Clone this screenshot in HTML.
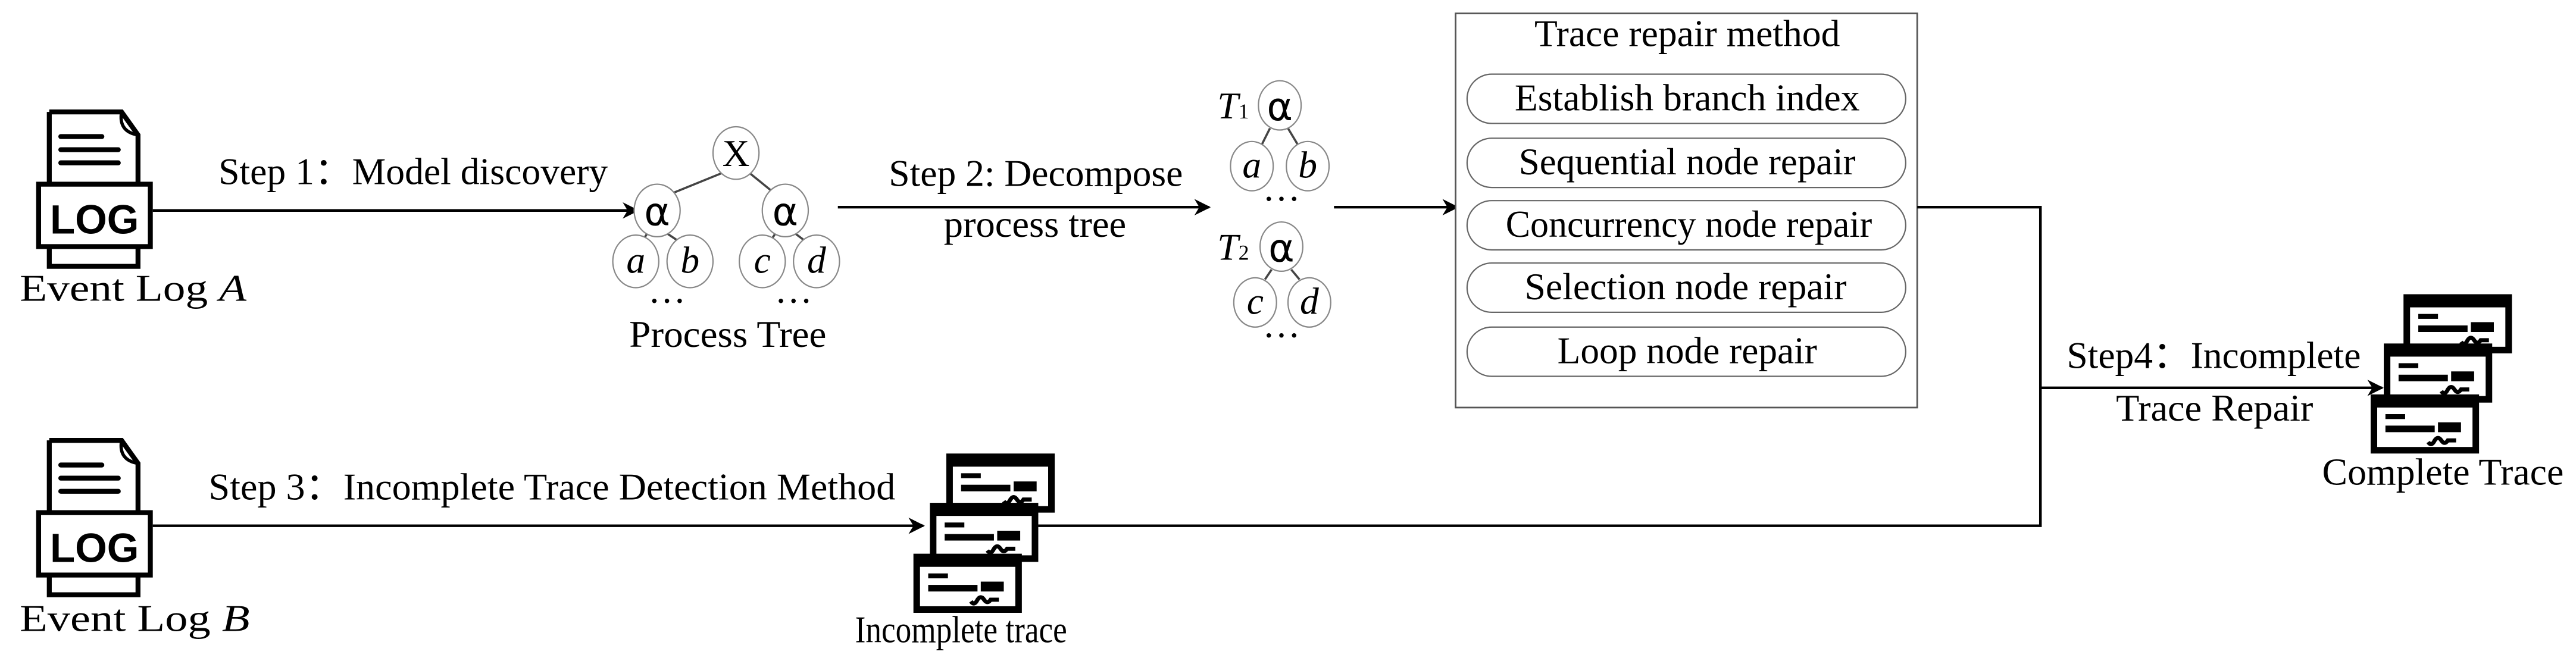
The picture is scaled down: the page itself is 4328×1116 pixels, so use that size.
<!DOCTYPE html>
<html><head><meta charset="utf-8"><style>html,body{margin:0;padding:0;background:#fff}svg{display:block}</style></head>
<body>
<svg xmlns="http://www.w3.org/2000/svg" width="4328" height="1116" viewBox="0 0 1568 404">
<defs>
<marker id="ar" markerWidth="10" markerHeight="10" refX="9" refY="5" orient="auto" markerUnits="userSpaceOnUse"><path d="M0,0 L10,5 L0,10 L3,5 z" fill="#000"/></marker>
<g id="log">
<path d="M8,2 H52 L62,16 V46 M62,84 V96 H8 V84 M8,46 V2" fill="none" stroke="#000" stroke-width="3"/>
<path d="M52,2 Q50,14 62,16" fill="none" stroke="#000" stroke-width="2"/>
<line x1="15" y1="17" x2="40" y2="17" stroke="#000" stroke-width="3" stroke-linecap="round"/>
<line x1="15" y1="25" x2="50" y2="25" stroke="#000" stroke-width="3" stroke-linecap="round"/>
<line x1="15" y1="33" x2="50" y2="33" stroke="#000" stroke-width="3" stroke-linecap="round"/>
<rect x="1.5" y="46" width="68" height="38" fill="#fff" stroke="#000" stroke-width="3"/>
<text x="35.5" y="76" text-anchor="middle" font-family="Liberation Sans, sans-serif" font-weight="bold" font-size="25">LOG</text>
</g>
<g id="card">
<rect x="2" y="2" width="62" height="32" fill="#fff" stroke="#000" stroke-width="4"/>
<rect x="2" y="2" width="62" height="6" fill="#000"/>
<rect x="9" y="12" width="12" height="3" fill="#000"/>
<rect x="9" y="19" width="30" height="4" fill="#000"/>
<rect x="41" y="17" width="14" height="6" fill="#000"/>
<path d="M35,29 q2,3 4,-1 q2,-3 4,0 q2,3 4,0 h5" fill="none" stroke="#000" stroke-width="2.5"/>
</g>
</defs>
<g font-family="Liberation Serif, serif" font-size="23" fill="#000">
<use href="#log" x="22" y="66"/>
<text x="81" y="183" text-anchor="middle" textLength="138" lengthAdjust="spacingAndGlyphs">Event Log <tspan font-style="italic">A</tspan></text>
<use href="#log" x="22" y="266"/>
<text x="82" y="384" text-anchor="middle" textLength="140" lengthAdjust="spacingAndGlyphs">Event Log <tspan font-style="italic">B</tspan></text>

<line x1="93" y1="128" x2="388" y2="128" stroke="#000" stroke-width="1.6" marker-end="url(#ar)"/>
<text x="133" y="112" textLength="237" lengthAdjust="spacingAndGlyphs">Step 1：Model discovery</text>

<g stroke="#444" stroke-width="1.3">
<line x1="440" y1="105" x2="408" y2="118"/><line x1="456" y1="105" x2="472" y2="118"/>
<line x1="394" y1="142" x2="390" y2="148"/><line x1="406" y1="142" x2="415" y2="148"/>
<line x1="472" y1="142" x2="468" y2="148"/><line x1="484" y1="142" x2="492" y2="148"/>
<line x1="773" y1="78" x2="768" y2="88"/><line x1="784" y1="78" x2="790" y2="88"/>
<line x1="774" y1="164" x2="770" y2="170"/><line x1="786" y1="164" x2="791" y2="170"/>
</g>
<g fill="#fff" stroke="#888" stroke-width="0.8">
<ellipse cx="448" cy="93" rx="14" ry="16"/>
<ellipse cx="400" cy="128" rx="14" ry="16"/><ellipse cx="478" cy="128" rx="14" ry="16"/>
<ellipse cx="387" cy="159" rx="14" ry="16"/><ellipse cx="420" cy="159" rx="14" ry="16"/>
<ellipse cx="464" cy="159" rx="14" ry="16"/><ellipse cx="497" cy="159" rx="14" ry="16"/>
<ellipse cx="779" cy="64" rx="13" ry="15"/><ellipse cx="762" cy="101" rx="13" ry="15"/><ellipse cx="796" cy="101" rx="13" ry="15"/>
<ellipse cx="780" cy="150" rx="13" ry="15"/><ellipse cx="764" cy="184" rx="13" ry="15"/><ellipse cx="797" cy="184" rx="13" ry="15"/>
</g>
<text x="448" y="101" text-anchor="middle">X</text>
<g font-family="DejaVu Sans, sans-serif" font-size="24" text-anchor="middle"><text x="400" y="137">α</text><text x="478" y="137">α</text><text x="779" y="73">α</text><text x="780" y="159">α</text></g>
<g font-style="italic" text-anchor="middle">
<text x="387" y="166">a</text><text x="420" y="166">b</text><text x="464" y="166">c</text><text x="497" y="166">d</text>
<text x="762" y="108">a</text><text x="796" y="108">b</text><text x="764" y="191">c</text><text x="797" y="191">d</text>
</g>
<text x="406" y="184" text-anchor="middle">…</text><text x="483" y="184" text-anchor="middle">…</text>
<text x="443" y="211" text-anchor="middle" textLength="120" lengthAdjust="spacingAndGlyphs">Process Tree</text>

<line x1="510" y1="126" x2="736" y2="126" stroke="#000" stroke-width="1.6" marker-end="url(#ar)"/>
<text x="541" y="113" textLength="179" lengthAdjust="spacingAndGlyphs">Step 2: Decompose</text>
<text x="630" y="144" text-anchor="middle" textLength="111" lengthAdjust="spacingAndGlyphs">process tree</text>

<text x="741" y="72" font-style="italic">T<tspan font-size="13" font-style="normal">1</tspan></text>
<text x="741" y="158" font-style="italic">T<tspan font-size="13" font-style="normal">2</tspan></text>
<text x="780" y="122" text-anchor="middle">…</text><text x="780" y="205" text-anchor="middle">…</text>

<line x1="812" y1="126" x2="887" y2="126" stroke="#000" stroke-width="1.6" marker-end="url(#ar)"/>
<rect x="886" y="8" width="281" height="240" fill="#fff" stroke="#555" stroke-width="1"/>
<text x="1027" y="28" text-anchor="middle" textLength="186" lengthAdjust="spacingAndGlyphs">Trace repair method</text>
<g fill="#fff" stroke="#666" stroke-width="0.8">
<rect x="893" y="45" width="267" height="30" rx="15"/>
<rect x="893" y="84" width="267" height="30" rx="15"/>
<rect x="893" y="122" width="267" height="30" rx="15"/>
<rect x="893" y="160" width="267" height="30" rx="15"/>
<rect x="893" y="199" width="267" height="30" rx="15"/>
</g>
<g text-anchor="middle">
<text x="1027" y="67" textLength="210" lengthAdjust="spacingAndGlyphs">Establish branch index</text>
<text x="1027" y="106" textLength="205" lengthAdjust="spacingAndGlyphs">Sequential node repair</text>
<text x="1028" y="144" textLength="223" lengthAdjust="spacingAndGlyphs">Concurrency node repair</text>
<text x="1026" y="182" textLength="196" lengthAdjust="spacingAndGlyphs">Selection node repair</text>
<text x="1027" y="221" textLength="158" lengthAdjust="spacingAndGlyphs">Loop node repair</text>
</g>

<polyline points="1167,126 1242,126 1242,320 632,320" fill="none" stroke="#000" stroke-width="1.6"/>
<line x1="1242" y1="236" x2="1450" y2="236" stroke="#000" stroke-width="1.6" marker-end="url(#ar)"/>
<text x="1258" y="224" textLength="179" lengthAdjust="spacingAndGlyphs">Step4：Incomplete</text>
<text x="1348" y="256" text-anchor="middle" textLength="120" lengthAdjust="spacingAndGlyphs">Trace Repair</text>
<use href="#card" x="1463" y="179"/>
<use href="#card" x="1451" y="209"/>
<use href="#card" x="1443" y="240"/>
<text x="1487" y="295" text-anchor="middle" textLength="147" lengthAdjust="spacingAndGlyphs">Complete Trace</text>

<line x1="93" y1="320" x2="562" y2="320" stroke="#000" stroke-width="1.6" marker-end="url(#ar)"/>
<text x="127" y="304" textLength="418" lengthAdjust="spacingAndGlyphs">Step 3：Incomplete Trace Detection Method</text>
<use href="#card" x="576" y="276"/>
<use href="#card" x="566" y="306"/>
<use href="#card" x="556" y="337"/>
<text x="585" y="391" text-anchor="middle" textLength="129" lengthAdjust="spacingAndGlyphs">Incomplete trace</text>
</g>
</svg>
</body></html>
